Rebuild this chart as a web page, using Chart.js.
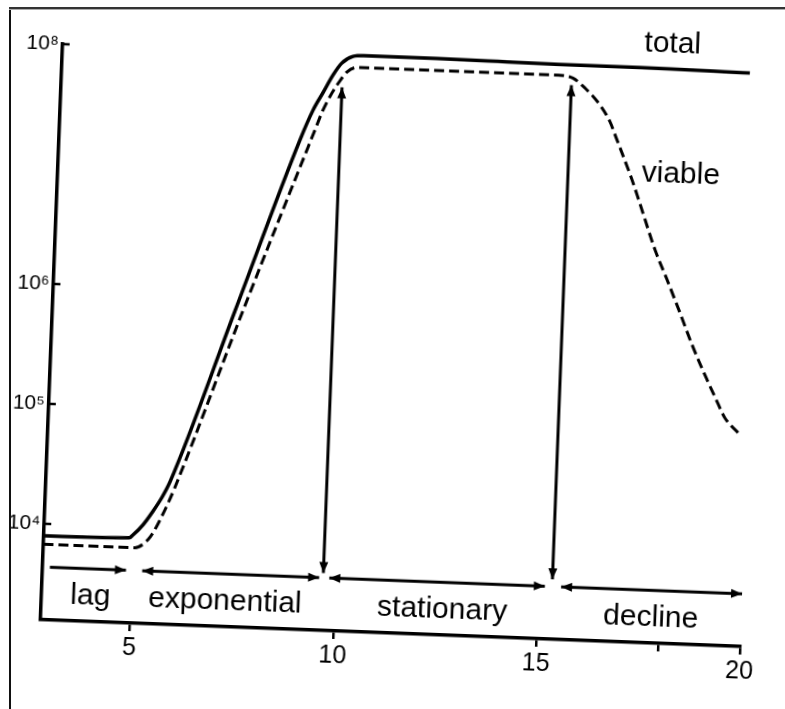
<!DOCTYPE html>
<html><head><meta charset="utf-8">
<script src="https://cdn.jsdelivr.net/npm/chart.js@4.4.1/dist/chart.umd.min.js"></script>
<style>
html,body{margin:0;padding:0;background:#fff;overflow:hidden;width:785px;height:709px;}
#c{position:absolute;left:0;top:0;transform:rotate(2.2deg);transform-origin:392.5px 354.5px;}
#frameL{position:absolute;left:9px;top:7px;width:2px;height:702px;background:#111;}
#frameT{position:absolute;left:9px;top:7px;width:776px;height:2px;background:#333;}
#frameT2{position:absolute;left:9px;top:9px;width:776px;height:1px;background:#aaa;}
</style>
</head><body>
<canvas id="c" width="785" height="709"></canvas>
<div id="frameL"></div><div id="frameT"></div><div id="frameT2"></div>
<script>
// ---- data (x = time, y = log10 of cell number) ----
const totalT  = [2.8, 4.9, 4.99, 5.22, 5.46, 5.67, 5.85, 7.28, 8.72, 9.01, 9.24, 9.47, 9.67, 9.94, 10.2, 12, 15, 17, 19.7];
const totalV  = [3.9, 3.91, 3.935, 4.02, 4.14, 4.26, 4.39, 5.83, 7.28, 7.53, 7.68, 7.83, 7.93, 7.99, 8.0, 8.0, 7.99, 7.99, 7.98];
const viableT = [2.8, 5.05, 5.36, 5.48, 5.64, 5.82, 5.98, 7.48, 9.08, 9.25, 9.46, 9.6, 9.81, 10.07, 12, 15.0, 15.36, 15.67, 16.05, 16.31, 16.45, 16.64, 16.91, 17.12, 17.54, 17.89, 18.21, 18.56, 18.94, 19.15, 19.41, 19.75];
const viableV = [3.83, 3.83, 3.90, 3.96, 4.07, 4.21, 4.35, 5.84, 7.37, 7.53, 7.68, 7.76, 7.86, 7.9, 7.9, 7.9, 7.88, 7.8, 7.665, 7.53, 7.42, 7.27, 7.05, 6.86, 6.475, 6.21, 5.96, 5.68, 5.41, 5.27, 5.10, 4.98];

const xTicks = [5, 10, 15, 18, 20];
const xTickLabels = ['5', '10', '15', '', '20'];
const yTicks = [4, 5, 6, 8];
const yTickLabels = ['10\u2074', '10\u2075', '10\u2076', '10\u2078'];

const phaseNames  = ['lag', 'exponential', 'stationary', 'decline'];
const phaseStart  = [2.98, 5.25, 9.85, 15.55];
const phaseEnd    = [4.85, 9.6, 15.15, 20];
const phaseLabelT = [4.0, 7.31, 12.65, 17.78];
const phaseLineV  = 3.64;
const phaseLabelV = 3.41;

const arrowT       = [9.7, 15.33];
const arrowBottomV = [3.68, 3.70];
const arrowTopV    = [7.73, 7.82];

const curveNames  = ['total', 'viable'];
const curveLabelT = [17.78, 18.1];
const curveLabelV = [8.19, 7.11];

// ---- build ----
const FONT = '"Liberation Sans", Arial, sans-serif';
Chart.defaults.font.family = FONT;
const pts = (ts, vs) => ts.map((t, i) => ({x: t, y: vs[i]}));

const phaseData = [];
phaseNames.forEach((n, i) => {
  phaseData.push({x: phaseStart[i], y: phaseLineV}, {x: phaseEnd[i], y: phaseLineV});
  if (i < phaseNames.length - 1) phaseData.push({x: (phaseEnd[i] + phaseStart[i + 1]) / 2, y: null});
});
const arrowData = [];
arrowT.forEach((t, i) => {
  arrowData.push({x: t, y: arrowBottomV[i]}, {x: t, y: arrowTopV[i]});
  if (i < arrowT.length - 1) arrowData.push({x: (t + arrowT[i + 1]) / 2, y: null});
});

function head(ctx, x, y, ang) {
  const L = 11, W = 4.5;
  ctx.beginPath();
  ctx.moveTo(x, y);
  ctx.lineTo(x - L * Math.cos(ang) + W * Math.sin(ang), y - L * Math.sin(ang) - W * Math.cos(ang));
  ctx.lineTo(x - L * Math.cos(ang) - W * Math.sin(ang), y - L * Math.sin(ang) + W * Math.cos(ang));
  ctx.closePath();
  ctx.fill();
}

const overlay = {
  id: 'overlay',
  afterDraw(chart) {
    const {ctx, scales: {x, y}, chartArea} = chart;
    ctx.save();
    ctx.fillStyle = '#000';
    ctx.strokeStyle = '#000';
    // inward y tick marks
    ctx.lineWidth = 2.5;
    yTicks.forEach(v => {
      const py = y.getPixelForValue(v);
      ctx.beginPath();
      ctx.moveTo(chartArea.left - 2, py);
      ctx.lineTo(chartArea.left + 7, py);
      ctx.stroke();
    });
    // phase arrowheads
    const py = y.getPixelForValue(phaseLineV);
    phaseNames.forEach((n, i) => {
      if (i > 0) head(ctx, x.getPixelForValue(phaseStart[i]), py, Math.PI);
      head(ctx, x.getPixelForValue(phaseEnd[i]), py, 0);
    });
    // vertical arrows
    arrowT.forEach((t, i) => {
      const px = x.getPixelForValue(t);
      head(ctx, px, y.getPixelForValue(arrowTopV[i]), -Math.PI / 2);
      head(ctx, px, y.getPixelForValue(arrowBottomV[i]), Math.PI / 2);
    });
    // texts
    ctx.font = '30px ' + FONT;
    ctx.textAlign = 'center';
    ctx.textBaseline = 'middle';
    phaseNames.forEach((n, i) => {
      ctx.fillText(n, x.getPixelForValue(phaseLabelT[i]), y.getPixelForValue(phaseLabelV));
    });
    curveNames.forEach((n, i) => {
      ctx.fillText(n, x.getPixelForValue(curveLabelT[i]), y.getPixelForValue(curveLabelV[i]));
    });
    ctx.restore();
  }
};

new Chart(document.getElementById('c'), {
  type: 'line',
  data: {datasets: [
    {data: pts(totalT, totalV), borderColor: '#000', borderWidth: 3.5, pointRadius: 0, cubicInterpolationMode: 'monotone', clip: false},
    {data: pts(viableT, viableV), borderColor: '#000', borderWidth: 3, borderDash: [10, 5], pointRadius: 0, cubicInterpolationMode: 'monotone', clip: false},
    {data: phaseData, borderColor: '#000', borderWidth: 3, pointRadius: 0, spanGaps: false, clip: false},
    {data: arrowData, borderColor: '#000', borderWidth: 3, pointRadius: 0, spanGaps: false, clip: false}
  ]},
  options: {
    responsive: false, animation: false, devicePixelRatio: 1,
    layout: {padding: {top: 57, right: 34, left: 0, bottom: 0}},
    plugins: {legend: {display: false}, tooltip: {enabled: false}},
    scales: {
      x: {
        type: 'linear', min: 2.8, max: 20,
        afterBuildTicks: s => { s.ticks = xTicks.map(v => ({value: v})); },
        ticks: {callback: v => xTickLabels[xTicks.indexOf(v)], color: '#000', font: {size: 25}, padding: 2, maxRotation: 0, autoSkip: false},
        grid: {display: true, drawOnChartArea: false, drawTicks: true, tickLength: 8, color: '#000', lineWidth: 2.5},
        border: {display: true, color: '#000', width: 3.5},
        afterFit: s => { s.height = 76; }
      },
      y: {
        type: 'linear', min: 3.2, max: 8,
        afterBuildTicks: s => { s.ticks = yTicks.map(v => ({value: v})); },
        ticks: {callback: v => yTickLabels[yTicks.indexOf(v)], color: '#000', font: {size: 21}, padding: 4},
        grid: {display: false, drawTicks: false},
        border: {display: true, color: '#000', width: 3.5},
        afterFit: s => { s.width = 51; }
      }
    }
  },
  plugins: [overlay]
});
</script>
</body></html>
